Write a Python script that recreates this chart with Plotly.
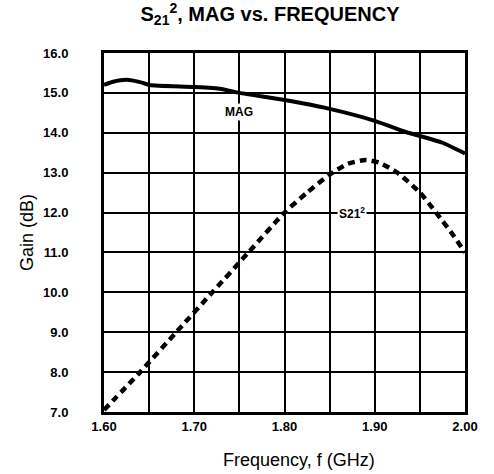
import plotly.graph_objects as go

# MAG curve (dB) vs frequency (GHz)
mag_freq = [1.600, 1.610, 1.625, 1.640, 1.650, 1.700, 1.730, 1.750, 1.800, 1.850, 1.900, 1.937, 1.950, 1.975, 2.000]
mag_gain = [15.20, 15.28, 15.33, 15.27, 15.20, 15.15, 15.10, 15.00, 14.82, 14.60, 14.30, 14.00, 13.92, 13.75, 13.48]

# S21^2 curve (dB) vs frequency (GHz)
s21_freq = [1.600, 1.640, 1.680, 1.720, 1.760, 1.800, 1.825, 1.850, 1.870, 1.890, 1.905, 1.925, 1.950, 1.968, 1.988, 2.000]
s21_gain = [7.05, 8.00, 9.00, 10.00, 11.00, 12.00, 12.50, 12.95, 13.22, 13.32, 13.25, 13.00, 12.50, 12.00, 11.40, 11.00]

x_ticks = [1.60, 1.70, 1.80, 1.90, 2.00]
x_tick_text = ["1.60", "1.70", "1.80", "1.90", "2.00"]
y_ticks = [7, 8, 9, 10, 11, 12, 13, 14, 15, 16]
y_tick_text = ["7.0", "8.0", "9.0", "10.0", "11.0", "12.0", "13.0", "14.0", "15.0", "16.0"]

labels = [("MAG", 1.75, 14.52), ("S21<sup>2</sup>", 1.875, 12.0)]

BOLD = "Liberation Sans, Arial, Helvetica, sans-serif"

fig = go.Figure()
fig.add_trace(go.Scatter(x=mag_freq, y=mag_gain, mode="lines",
                         line=dict(color="black", width=4, shape="spline", smoothing=0.6),
                         showlegend=False, hoverinfo="skip"))
fig.add_trace(go.Scatter(x=s21_freq, y=s21_gain, mode="lines",
                         line=dict(color="black", width=4.5, dash="7px,5px", shape="spline", smoothing=0.6),
                         showlegend=False, hoverinfo="skip"))

for txt, lx, ly in labels:
    fig.add_annotation(x=lx, y=ly, text=f"<b>{txt}</b>", showarrow=False,
                       font=dict(family=BOLD, size=12, color="black"),
                       bgcolor="white", borderpad=1, xanchor="center", yanchor="middle")

# x-axis title placed as annotation (reference centre is right of plot centre)
fig.add_annotation(x=(299 - 104) / 361, y=(412 - 460) / 359, xref="paper", yref="paper",
                   text="Frequency, f (GHz)", showarrow=False,
                   xanchor="center", yanchor="middle",
                   font=dict(family=BOLD, size=18, color="black"))

fig.update_layout(
    width=494, height=474,
    margin=dict(l=104, r=29, t=53, b=62, autoexpand=False),
    paper_bgcolor="white", plot_bgcolor="white",
    title=dict(text="<b>S<sub>21</sub><sup>2</sup>, MAG vs. FREQUENCY</b>",
               x=270 / 494, xref="container", y=1 - 14 / 474, yref="container",
               xanchor="center", yanchor="middle",
               font=dict(family=BOLD, size=20, color="black")),
    xaxis=dict(range=[1.6, 2.0], tickvals=x_ticks, ticktext=[f"<b>{t}</b>" for t in x_tick_text],
               showgrid=True, gridcolor="black", gridwidth=2,
               minor=dict(dtick=0.05, showgrid=True, gridcolor="black", gridwidth=2, ticks=""),
               showline=True, linecolor="black", linewidth=3, mirror=True,
               ticks="", ticklabelstandoff=0, zeroline=False, automargin=False,
               tickfont=dict(family=BOLD, size=13, color="black")),
    yaxis=dict(range=[7, 16], tickvals=y_ticks, ticktext=[f"<b>{t}</b>" for t in y_tick_text],
               showgrid=True, gridcolor="black", gridwidth=2,
               showline=True, linecolor="black", linewidth=3, mirror=True,
               ticks="", ticklabelstandoff=30, zeroline=False, automargin=False,
               tickfont=dict(family=BOLD, size=13, color="black"),
               title=dict(text="Gain (dB)", standoff=5,
                          font=dict(family=BOLD, size=18, color="black"))),
)

fig.write_html("out.html")
